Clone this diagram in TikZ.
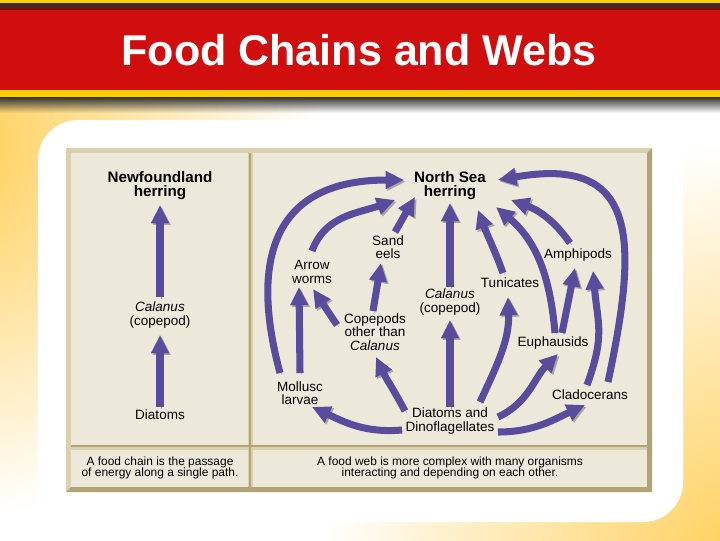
\documentclass[tikz,border=0pt]{standalone}
\usepackage{fontspec}
\setmainfont{Liberation Sans}
\usepackage{xcolor}
\usepackage{tikz}
\usetikzlibrary{arrows.meta, calc, fadings}

\definecolor{webpurple}{RGB}{90,76,156}
\definecolor{barred}{RGB}{208,14,14}
\definecolor{baryellow}{RGB}{255,204,0}
\definecolor{bgyellow}{RGB}{255,204,80}
\definecolor{panelbeige}{RGB}{237,233,218}
\definecolor{framelight}{RGB}{218,208,176}
\definecolor{framedark}{RGB}{178,162,116}

\begin{document}
\begin{tikzpicture}[x=0.025cm, y=-0.025cm,
  critter/.style={align=center, inner sep=0pt, font=\fontsize{9.6}{9.6}\selectfont},
  herring/.style={align=center, inner sep=0pt, font=\fontsize{10.8}{10}\selectfont\bfseries},
  blurb/.style={align=center, inner sep=0pt, font=\fontsize{8.5}{8}\selectfont},
  feeds/.style={-{Triangle[width=12pt,length=13pt]}, line width=5pt, webpurple,
    preaction={draw=black!35, transform canvas={shift={(1.2pt,-1.2pt)}}}}
]
  \useasboundingbox (0,0) rectangle (720,540);
  % Background
  \fill[white] (0,0) rectangle (720,540);
  \shade[inner color=bgyellow, outer color=white] (-60,140) circle (380);
  \shade[inner color=bgyellow, outer color=white] (760,580) circle (440);
  \fill[baryellow] (0,0) rectangle (720,3);
  \shade[top color=black!80, bottom color=barred!60!black] (0,3) rectangle (720,10);
  \fill[barred] (0,10) rectangle (720,90);
  \fill[baryellow] (0,90) rectangle (720,97);
  \fill[black!80, path fading=south] (0,97) rectangle (720,113);
  \node[font=\fontsize{30.6}{31}\selectfont\bfseries, text=white] (title) at (359,50) {Food Chains and Webs};
  \fill[white, rounded corners=1cm] (38,120) rectangle (683,522);
  % Frame
  \fill[framelight] (66,148) rectangle (652,492);
  \fill[framedark] (652,148) -- (652,492) -- (66,492) -- (71,487) -- (647,487) -- (647,153) -- cycle;
  \fill[panelbeige] (71,153) rectangle (248,445);
  \fill[panelbeige] (253,153) rectangle (647,445);
  \fill[panelbeige] (71,450) rectangle (248,487);
  \fill[panelbeige] (253,450) rectangle (647,487);
  \draw[framedark, line width=1.2pt] (250,153) -- (250,487);
  \draw[framedark, line width=1.5pt] (71,446) -- (647,446);

  % Food chain
  \node[herring] (nfherring) at (160,186) {Newfoundland\\herring};
  \node[critter] (calanusA) at (160,315) {\itshape Calanus\\(copepod)};
  \node[critter] (diatomsA) at (160,415) {Diatoms};
  \node[blurb] (chaintext) at (160,468) {A food chain is the passage\\of energy along a single path.};
  \draw[feeds] ($(diatomsA)+(0,-8)$) -- ($(calanusA)+(0,20)$);
  \draw[feeds] ($(calanusA)+(0,-18)$) -- ($(nfherring)+(0,19)$);

  % Food web
  \node[herring] (nsherring) at (450,186) {North Sea\\herring};
  \node[critter] (sandeels) at (388,247) {Sand\\eels};
  \node[critter] (arrowworms) at (312,272) {Arrow\\worms};
  \node[critter] (amphipods) at (578,255) {Amphipods};
  \node[critter] (tunicates) at (510,283) {Tunicates};
  \node[critter] (calanusB) at (450,302) {\itshape Calanus\\(copepod)};
  \node[critter] (copepods) at (375,332) {Copepods\\other than\\\itshape Calanus};
  \node[critter] (euphausids) at (553,343) {Euphausids};
  \node[critter] (mollusc) at (300,393) {Mollusc\\larvae};
  \node[critter] (cladocerans) at (590,395) {Cladocerans};
  \node[critter] (diatomsB) at (450,421) {Diatoms and\\Dinoflagellates};
  \node[blurb] (webtext) at (450,468) {A food web is more complex with many organisms\\interacting and depending on each other.};

  \draw[feeds] ($(mollusc)+(-20,-20)$) to[out=105, in=180, looseness=1.4] ($(nsherring)+(-46,-6)$);
  \draw[feeds] ($(mollusc)+(0,-20)$) -- ($(arrowworms)+(-13,15)$);
  \draw[feeds] ($(copepods)+(-38,-7)$) -- ($(arrowworms)+(1,17)$);
  \draw[feeds] ($(arrowworms)+(0,-21)$) to[out=70, in=200] ($(nsherring)+(-55,14)$);
  \draw[feeds] ($(sandeels)+(7,-15)$) to[out=60, in=240] ($(nsherring)+(-35,11)$);
  \draw[feeds] ($(copepods)+(-2,-21)$) -- ($(sandeels)+(-7,16)$);
  \draw[feeds] ($(calanusB)+(0,-15)$) -- ($(nsherring)+(0,17)$);
  \draw[feeds] ($(diatomsB)+(0,-14)$) -- ($(calanusB)+(0,18)$);
  \draw[feeds] ($(diatomsB)+(-45,-10)$) to[out=118, in=-65] ($(copepods)+(1,25)$);
  \draw[feeds] ($(diatomsB)+(-48,9)$) to[out=185, in=-25] ($(mollusc)+(12,14)$);
  \draw[feeds] ($(diatomsB)+(30,-19)$) to[out=65, in=-88] ($(tunicates)+(-2,14)$);
  \draw[feeds] ($(tunicates)+(-7,-10)$) to[out=110, in=-70] ($(nsherring)+(28,24)$);
  \draw[feeds] ($(diatomsB)+(48,-4)$) to[out=25, in=-135] ($(euphausids)+(5,11)$);
  \draw[feeds] ($(diatomsB)+(48,11)$) to[out=0, in=-155] ($(cladocerans)+(-5,10)$);
  \draw[feeds] ($(euphausids)+(2,-10)$) to[out=95, in=-40] ($(nsherring)+(46,21)$);
  \draw[feeds] ($(euphausids)+(9,-10)$) -- ($(amphipods)+(-3,13)$);
  \draw[feeds] ($(cladocerans)+(-3,-10)$) to[out=70, in=-85, looseness=1.2] ($(amphipods)+(15,16)$);
  \draw[feeds] ($(cladocerans)+(18,-13)$) to[out=78, in=10, looseness=1.6] ($(nsherring)+(48,-6)$);
  \draw[feeds] ($(amphipods)+(-8,-12)$) to[out=125, in=-20] ($(nsherring)+(61,14)$);
\end{tikzpicture}
\end{document}
